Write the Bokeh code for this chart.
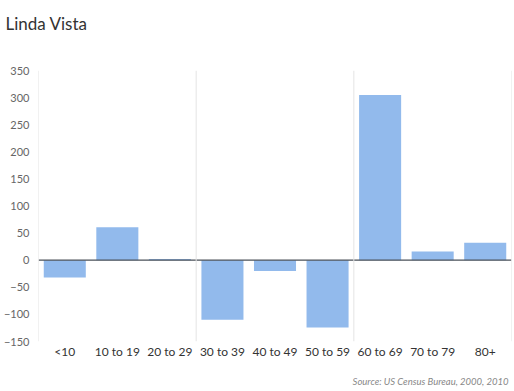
from bokeh.plotting import figure
from bokeh.models import Span, Title, Range1d, ColumnDataSource, FixedTicker
from bokeh.embed import file_html
from bokeh.resources import INLINE

categories = ["<10", "10 to 19", "20 to 29", "30 to 39", "40 to 49",
              "50 to 59", "60 to 69", "70 to 79", "80+"]
values = [-32, 61, 2, -110, -20, -124, 305, 16, 32]
y_ticks = [-150, -100, -50, 0, 50, 100, 150, 200, 250, 300, 350]

FONT = "Lato"
BAR = "#92baec"

src = ColumnDataSource(dict(cat=categories, val=values))

p = figure(x_range=categories, y_range=Range1d(-150, 350),
           width=514, height=391, output_backend="svg", toolbar_location=None,
           title_location=None,
           min_border_left=37, min_border_right=3, min_border_top=70,
           min_border_bottom=50)
p.outline_line_color = None
p.background_fill_color = "white"
p.border_fill_color = "white"

p.vbar(x="cat", top="val", bottom=0, width=0.8, source=src,
       fill_color=BAR, line_color=None)

# zero line
p.add_layout(Span(location=0, dimension="width", line_color="#4a5058", line_width=1.3))
# vertical separators
for loc in [0, 3, 6, 9]:
    p.add_layout(Span(location=loc, dimension="height", line_color="#e4e4e4", line_width=1))

p.xgrid.visible = False
p.ygrid.visible = False

for ax in (p.xaxis[0], p.yaxis[0]):
    ax.axis_line_color = None
    ax.major_tick_line_color = None
    ax.minor_tick_line_color = None
    ax.major_tick_out = 0
    ax.major_tick_in = 0
    ax.minor_tick_out = 0
    ax.major_label_text_font = FONT
    ax.major_label_text_font_size = "11px"
    ax.major_label_text_color = "#333333"

p.yaxis[0].ticker = FixedTicker(ticks=y_ticks)
p.yaxis[0].major_label_standoff = 9
p.yaxis[0].major_label_text_color = "#666666"
p.xaxis[0].major_label_standoff = 2
p.xaxis[0].major_label_text_font_size = "12px"

# spacer between frame and title, then the title itself
p.add_layout(Title(text=" ", text_font_size="1px", standoff=26), "above")
p.add_layout(Title(text="Linda Vista", align="left", offset=-33, standoff=16,
                   text_font=FONT, text_font_size="17px", text_font_style="normal",
                   text_color="#333333"), "above")

# spacer below the x axis, then the source note
p.add_layout(Title(text=" ", text_font_size="1px", standoff=6), "below")
p.add_layout(Title(text="Source: US Census Bureau, 2000, 2010", align="right",
                   offset=3, standoff=6, text_font=FONT, text_font_size="9.5px",
                   text_font_style="italic", text_color="#888888"), "below")

open("out.html", "w").write(file_html(p, INLINE))
